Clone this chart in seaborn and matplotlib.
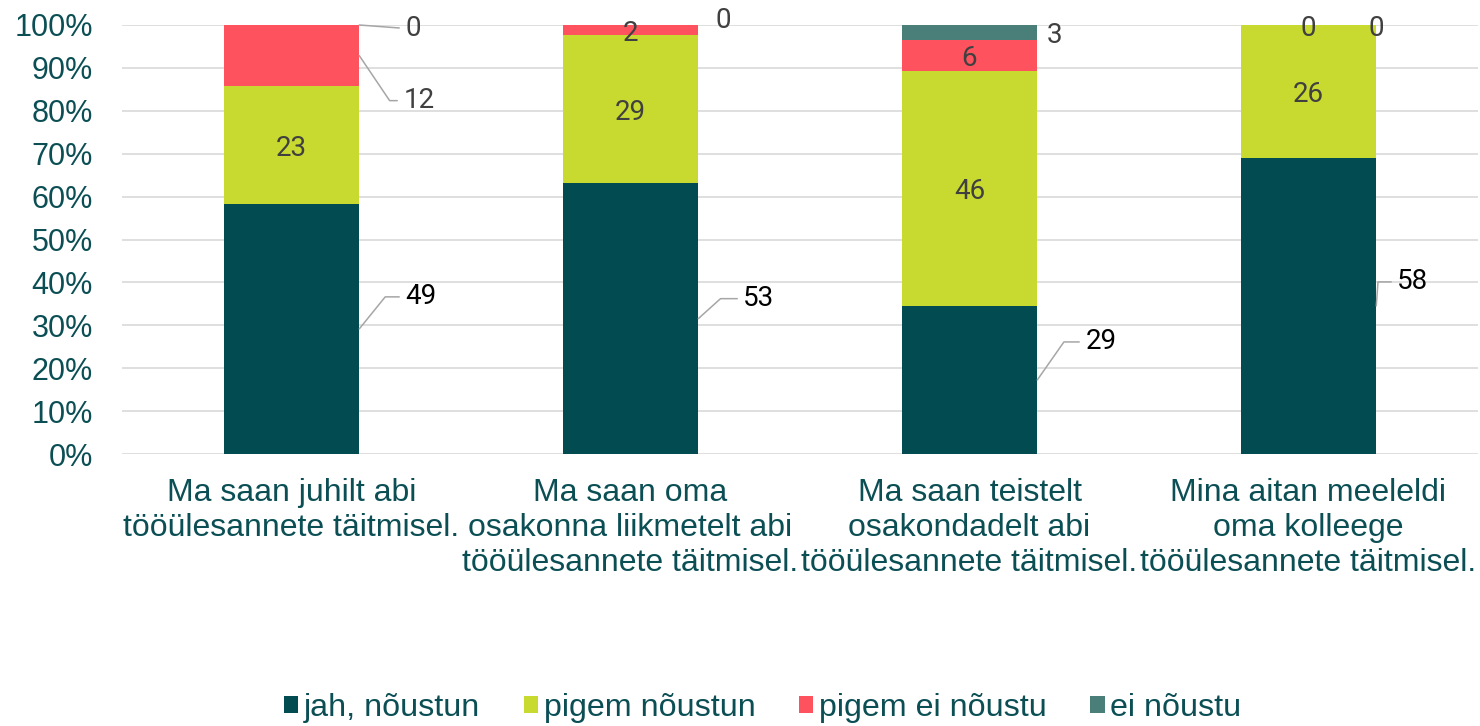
import numpy as np
import matplotlib
matplotlib.use("Agg")
import matplotlib.pyplot as plt
import seaborn as sns
from matplotlib.patches import Patch

# -------------------------------
# Data
# -------------------------------

questions = [
    "Ma saan juhilt abi\ntööülesannete täitmisel.",
    "Ma saan oma\nosakonna liikmetelt abi\ntööülesannete täitmisel.",
    "Ma saan teistelt\nosakondadelt abi\ntööülesannete täitmisel.",
    "Mina aitan meeleldi\noma kolleege\ntööülesannete täitmisel.",
]
series_names = ["jah, nõustun", "pigem nõustun", "pigem ei nõustu", "ei nõustu"]
jah = [49, 53, 29, 58]
pigem = [23, 29, 46, 26]
pigem_ei = [12, 2, 6, 0]
ei = [0, 0, 3, 0]
y_ticks = [0, 10, 20, 30, 40, 50, 60, 70, 80, 90, 100]

# -------------------------------
# Styles
# -------------------------------

colors = ["#024B51", "#C8D92F", "#FF525F", "#4A7F79"]
text_teal = "#0B4F55"
label_gray = "#404040"
leader_gray = "#A6A6A6"
bar_w = 0.4
base_dy = -4  # nudge so digits sit visually centred

# outside labels: (series, bar) -> (dx px, dy px, leader angle, ha, color)
outside = {
    (0, 0): (46, 36, 51, "left", "black"),
    (2, 0): (44, -41, -56, "left", label_gray),
    (3, 0): (46, 0, 0, "left", label_gray),
    (0, 1): (45, 24, 42, "left", "black"),
    (3, 1): (17, 8, None, "left", label_gray),
    (0, 2): (48, 42, 55, "left", "black"),
    (3, 2): (9, 1, None, "left", label_gray),
    (0, 3): (21, 28, 86, "left", "black"),
    (3, 3): (0, 0, None, "center", label_gray),
}

sns.set_theme(style="white")
plt.rcParams["font.family"] = ["Liberation Sans", "DejaVu Sans"]

counts = np.array([jah, pigem, pigem_ei, ei], dtype=float)
pct = counts / counts.sum(axis=0) * 100
cum = np.cumsum(pct, axis=0)

fig = plt.figure(figsize=(14.8, 7.26), dpi=100)
ax = fig.add_axes([122 / 1480, 1 - 454 / 726, 1356 / 1480, 429 / 726])

# stacked bars: draw cumulative totals from the top series down
for k in range(len(series_names) - 1, -1, -1):
    sns.barplot(x=questions, y=cum[k], color=colors[k], width=bar_w,
                saturation=1, errorbar=None, linewidth=0, ax=ax)

# -------------------------------
# Data labels
# -------------------------------

for k in range(len(series_names)):
    for j in range(len(questions)):
        lo = cum[k][j] - pct[k][j]
        mid = (lo + cum[k][j]) / 2
        txt = f"{int(counts[k][j])}"
        if (k, j) in outside:
            dx, dy, ang, ha, col = outside[(k, j)]
            if ang is None:
                arrow = None
            elif ang == 0:
                arrow = dict(arrowstyle="-", color=leader_gray, lw=1.1,
                             shrinkA=2, shrinkB=0)
            else:
                arrow = dict(arrowstyle="-", color=leader_gray, lw=1.1,
                             shrinkA=2, shrinkB=0,
                             connectionstyle=f"angle,angleA=0,angleB={ang},rad=0")
            ax.annotate(txt, xy=(j + bar_w / 2, mid), xytext=(dx, dy + base_dy),
                        textcoords="offset pixels", ha=ha, va="center",
                        fontsize=20, color=col, family="Roboto",
                        arrowprops=arrow, annotation_clip=False)
        else:
            ax.annotate(txt, xy=(j, mid), xytext=(0, base_dy + 1),
                        textcoords="offset pixels", ha="center", va="center",
                        fontsize=20, color=label_gray, family="Roboto")

# -------------------------------
# Axes
# -------------------------------

ax.set_xlim(-0.5, len(questions) - 0.5)
ax.set_ylim(0, 100)
ax.set_yticks(y_ticks)
ax.set_yticklabels([f"{t}%" for t in y_ticks])
ax.yaxis.grid(True, color="#D9D9D9", lw=1.2)
ax.set_axisbelow(True)
for s in ax.spines.values():
    s.set_visible(False)
ax.tick_params(axis="y", length=0, pad=21, labelsize=22, labelcolor=text_teal)
ax.tick_params(axis="x", length=0, pad=17, labelsize=23, labelcolor=text_teal)
for lab in ax.get_xticklabels():
    lab.set_linespacing(1.22)
ax.set_xlabel("")
ax.set_ylabel("")

handles = [Patch(facecolor=c, edgecolor="none") for c in colors]
fig.legend(handles, series_names, loc="center", bbox_to_anchor=(0.5155, 0.025),
           ncol=4, frameon=False, fontsize=23.2, handlelength=0.44,
           handleheight=0.44, handletextpad=0.18, columnspacing=1.35,
           labelcolor=text_teal)

fig.savefig("out.png", dpi=100, facecolor="white")
